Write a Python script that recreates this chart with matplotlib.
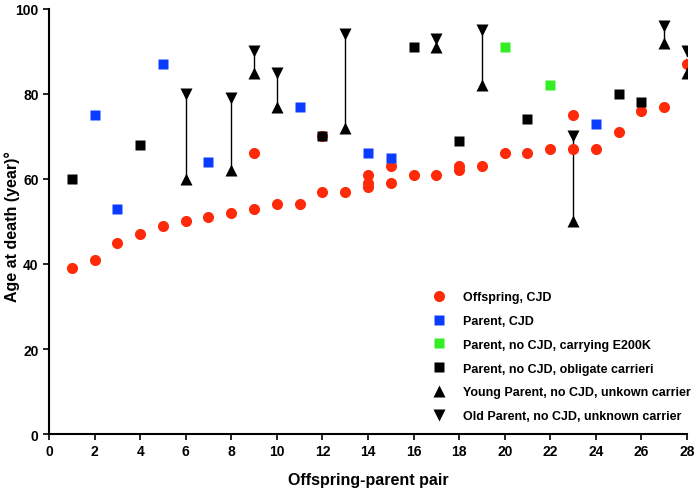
import matplotlib
matplotlib.use('Agg')
import matplotlib.pyplot as plt

plt.rcParams['font.family'] = ['Liberation Sans', 'DejaVu Sans']
plt.rcParams['font.weight'] = 'bold'

# offspring with CJD (pair, age)
off_x = [1, 2, 3, 4, 5, 6, 7, 8, 9, 9, 10, 11, 12, 12, 13, 14, 14, 14,
         15, 15, 16, 17, 18, 18, 19, 20, 21, 22, 23, 23, 24, 25, 26, 27, 28]
off_y = [39, 41, 45, 47, 49, 50, 51, 52, 53, 66, 54, 54, 57, 70, 57, 58, 59, 61,
         59, 63, 61, 61, 62, 63, 63, 66, 66, 67, 67, 75, 67, 71, 76, 77, 87]

# parent with CJD
par_x = [2, 3, 5, 7, 11, 14, 15, 24]
par_y = [75, 53, 87, 64, 77, 66, 65, 73]

# parent, no CJD, carrying E200K
e200_x = [20, 22]
e200_y = [91, 82]

# parent, no CJD, obligate carrier
obl_x = [1, 4, 12, 16, 18, 21, 25, 26]
obl_y = [60, 68, 70, 91, 69, 74, 80, 78]

# young / old parent, no CJD, unknown carrier
unk_x = [6, 8, 9, 10, 13, 17, 19, 23, 27, 28]
young_y = [60, 62, 85, 77, 72, 91, 82, 50, 92, 85]
old_y = [80, 79, 90, 85, 94, 93, 95, 70, 96, 90]

fig = plt.figure(figsize=(6.99, 4.89), dpi=100)
ax = fig.add_axes([0.0701, 0.1104, 0.9127, 0.8692])

ax.vlines(unk_x, young_y, old_y, color='black', lw=1, zorder=1)
ax.plot(off_x, off_y, 'o', color='#ff2a0a', ms=8, mec='none', label='Offspring, CJD', zorder=2)
ax.plot(par_x, par_y, 's', color='#0a3cff', ms=7, mec='none', label='Parent, CJD', zorder=3)
ax.plot(e200_x, e200_y, 's', color='#33ee22', ms=7, mec='none', label='Parent, no CJD, carrying E200K', zorder=3)
ax.plot(obl_x, obl_y, 's', color='black', ms=7.5, mec='none', label='Parent, no CJD, obligate carrieri', zorder=3)
ax.plot(unk_x, young_y, '^', color='black', ms=8, mec='none', label='Young Parent, no CJD, unkown carrier', zorder=3)
ax.plot(unk_x, old_y, 'v', color='black', ms=8, mec='none', label='Old Parent, no CJD, unknown carrier', zorder=3)

ax.set_xlim(0, 28)
ax.set_ylim(0, 100)
ax.set_xticks(range(0, 29, 2))
ax.set_yticks(range(0, 101, 20))
for s in ['top', 'right']:
    ax.spines[s].set_visible(False)
for s in ['left', 'bottom']:
    ax.spines[s].set_linewidth(1.5)
ax.tick_params(direction='out', length=4, width=1.2, labelsize=10)

ax.set_xlabel('Offspring-parent pair', fontsize=11.5, fontweight='bold', labelpad=10)
ax.set_ylabel('Age at death (year)°', fontsize=11.5, fontweight='bold')
ax.yaxis.set_label_coords(-0.046, 0.49)

ax.legend(loc='upper left', bbox_to_anchor=(433 / 699, 1 - 292 / 489), bbox_transform=fig.transFigure,
          frameon=False, fontsize=9, handlelength=1, handletextpad=1.4, labelspacing=0.95,
          borderpad=0, borderaxespad=0)

fig.savefig('out.png', dpi=100)
